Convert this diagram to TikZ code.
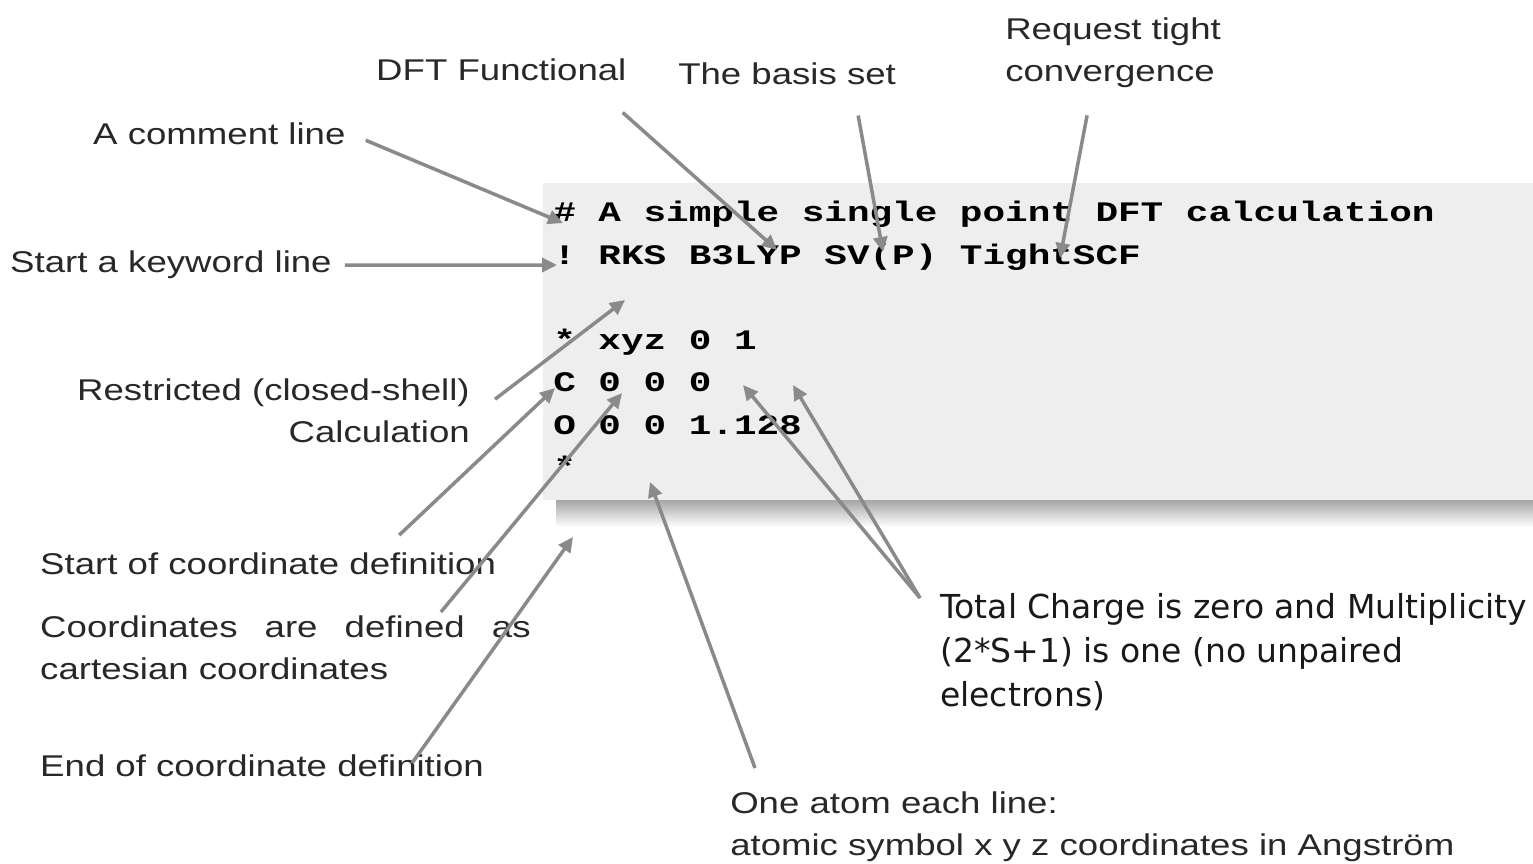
\documentclass[tikz,border=0pt]{standalone}
\usepackage{fontspec}
\setmainfont{Liberation Sans}
\newfontfamily\codefont{Liberation Mono}
\newfontfamily\notefont{DejaVu Sans}
\usetikzlibrary{arrows.meta}
\definecolor{boxgray}{RGB}{238,238,238}
\definecolor{arrowgray}{RGB}{138,138,138}
\definecolor{inkgray}{RGB}{40,40,40}

\begin{document}
\begin{tikzpicture}[x=1pt,y=-1pt,
  remark/.style={inner sep=0pt,xscale=1.22,text=inkgray,font=\fontsize{30}{42}\selectfont},
  codeline/.style={anchor=base west,inner sep=0pt,xscale=1.333,font=\codefont\bfseries\frenchspacing\fontsize{28.25}{34}\selectfont},
  pointer/.style={draw=arrowgray,line width=3.5pt,-{Triangle[length=15pt,width=14pt]}}]
\useasboundingbox (0,0) rectangle (1533,864);

% the input file
\shade[top color=black!35,bottom color=white] (556,500) rectangle (1533,527);
\fill[boxgray] (543,183) rectangle (1533,500);
\node[codeline] (l-comment) at (553,221) {\# A simple single point DFT calculation};
\node[codeline] (l-keys) at (553,264) {! RKS B3LYP SV(P) TightSCF};
\node[codeline] (l-xyz) at (553,349) {* xyz 0 1};
\node[codeline] (l-carbon) at (553,391) {C 0 0 0};
\node[codeline] (l-oxygen) at (553,434) {O 0 0 1.128};
\node[codeline] (l-end) at (553,476) {*};

% explanations
\node[remark,anchor=base west] (comment) at (93,144) {A comment line};
\node[remark,anchor=base west] (keyword) at (10,272) {Start a keyword line};
\node[remark,anchor=base west] (functional) at (376,81) {DFT Functional};
\node[remark,anchor=base west] (basis) at (678,85) {The basis set};
\node[remark,anchor=north west,align=left] (tight) at (1005,18) {Request tight\\convergence};
\node[remark,anchor=north east,align=right] (restricted) at (470,379) {Restricted (closed-shell)\\Calculation};
\node[remark,anchor=base west] (coordstart) at (40,574) {Start of coordinate definition};
\node[remark,anchor=north west,text width=402pt,align=justify] (cartesian) at (40,616) {Coordinates are defined as\linebreak cartesian coordinates};
\node[remark,anchor=base west] (coordend) at (40,776) {End of coordinate definition};
\node[remark,anchor=north west,align=left] (atomline) at (730,792) {One atom each line:\\atomic symbol x y z coordinates in Angström};
\node[anchor=north west,inner sep=0pt,xscale=1.0,align=left,text=black!90,
  font=\notefont\fontsize{33}{44}\selectfont] (charge) at (940,593)
  {Total Charge is zero and Multiplicity\\(2*S+1) is one (no unpaired\\electrons)};

% where the arrows point
\coordinate (t-hash) at (563,223);
\coordinate (t-bang) at (557,265);
\coordinate (t-b3lyp) at (777,250);
\coordinate (t-basis) at (883,252);
\coordinate (t-tight) at (1060,258);
\coordinate (t-rks) at (625,300);
\coordinate (t-star) at (555,388);
\coordinate (t-cart) at (622,393);
\coordinate (t-end) at (573,537);
\coordinate (t-charge) at (743,385);
\coordinate (t-mult) at (793,385);
\coordinate (t-atom) at (650,482);

\draw[pointer] ([shift={(20,7)}]comment.east) -- (t-hash);
\draw[pointer] ([shift={(13,1)}]keyword.east) -- (t-bang);
\draw[pointer] ([shift={(-4,31)}]functional.south east) -- (t-b3lyp);
\draw[pointer] ([shift={(-38,30)}]basis.south east) -- (t-basis);
\draw[pointer] ([shift={(-26,27)}]tight.south) -- (t-tight);
\draw[pointer] ([shift={(25,-12)}]restricted.east) -- (t-rks);
\draw[pointer] ([shift={(-97,-17)}]coordstart.north east) -- (t-star);
\draw[pointer] ([shift={(-90,-4)}]cartesian.north east) -- (t-cart);
\draw[pointer] ([shift={(-72,9)}]coordend.north east) -- (t-end);
\draw[pointer] ([shift={(-20,5)}]charge.north west) -- (t-charge);
\draw[pointer] ([shift={(-20,5)}]charge.north west) -- (t-mult);
\draw[pointer] ([shift={(25,-24)}]atomline.north west) -- (t-atom);
\end{tikzpicture}
\end{document}
